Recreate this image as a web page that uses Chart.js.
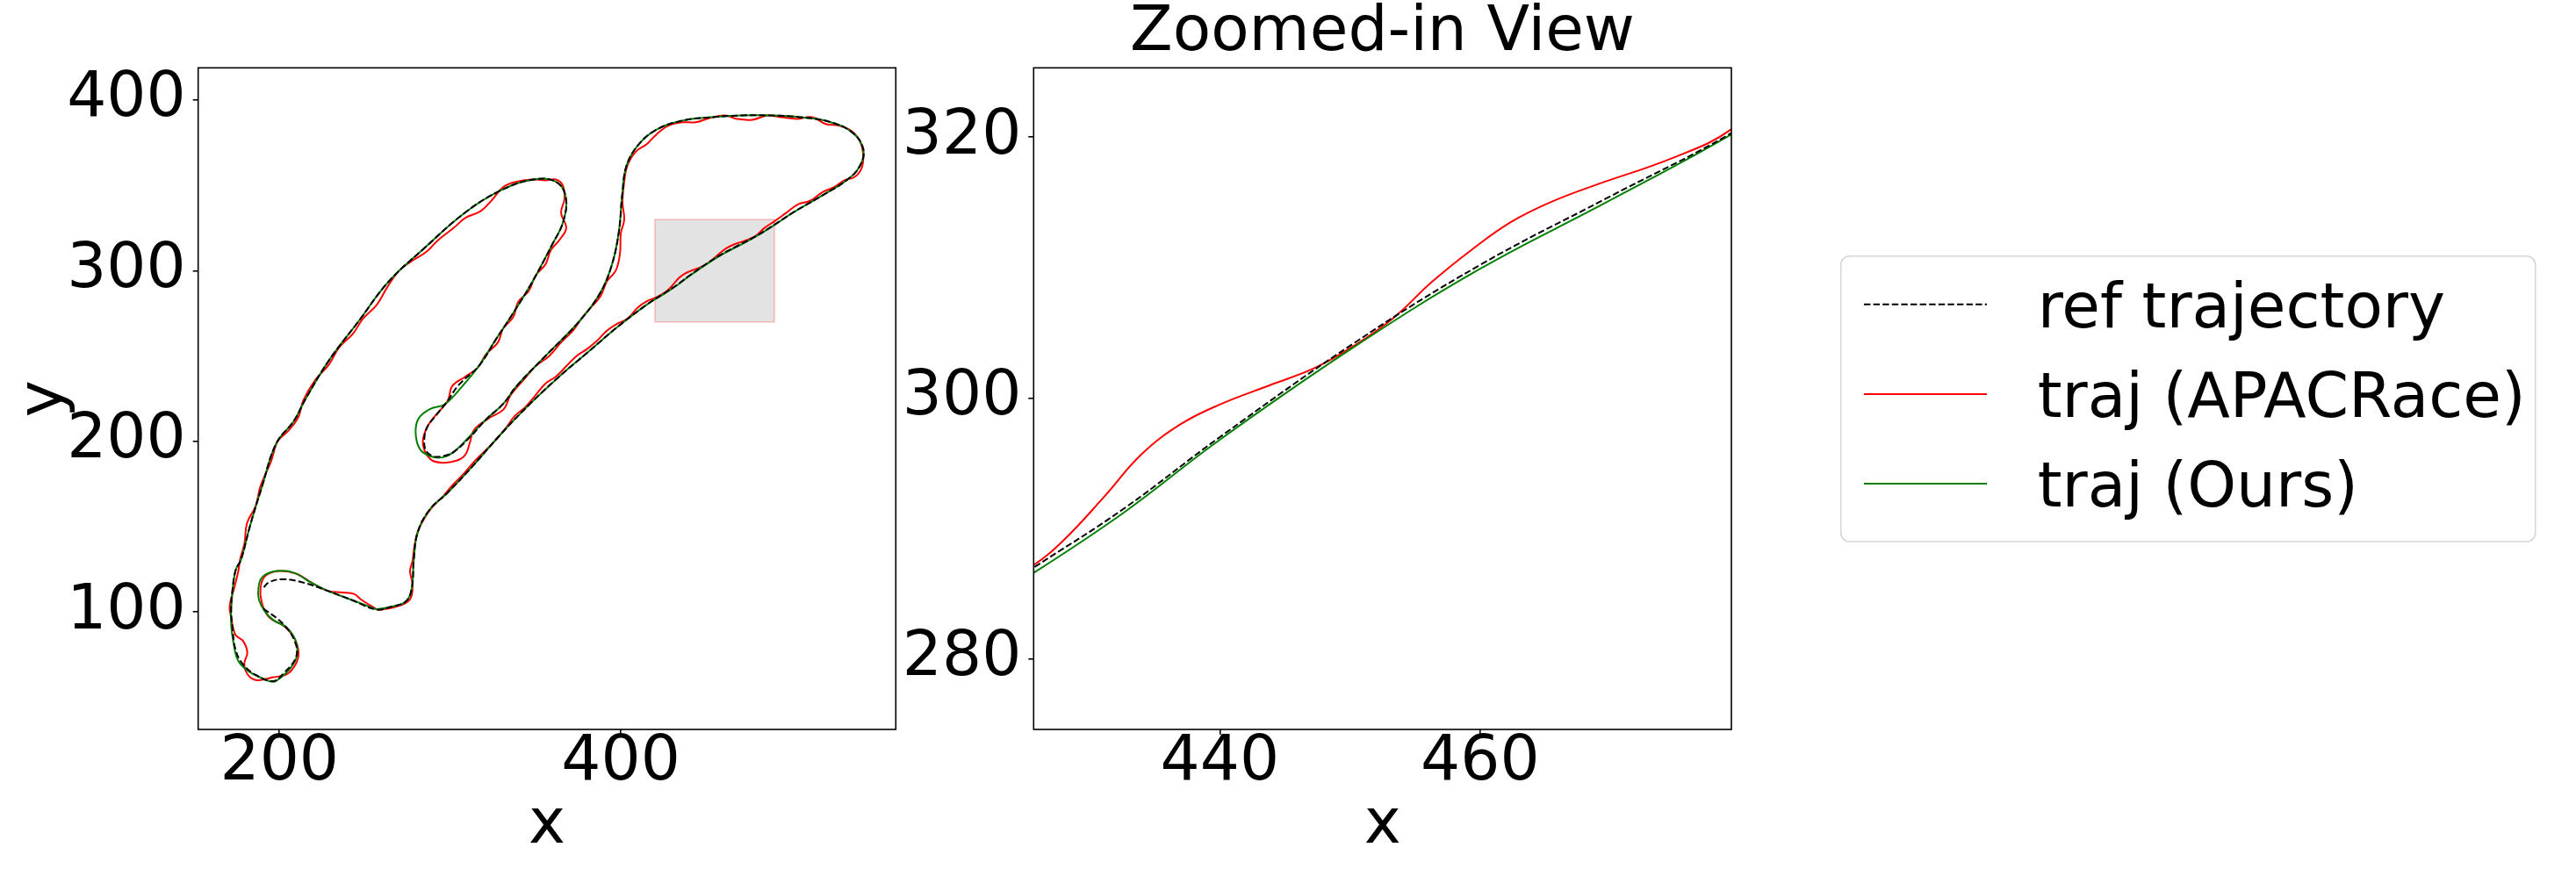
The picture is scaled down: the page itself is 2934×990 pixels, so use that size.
<!DOCTYPE html>
<html>
<head>
<meta charset="utf-8">
<script src="https://cdn.jsdelivr.net/npm/chart.js@4.4.1/dist/chart.umd.min.js"></script>
<style>
  html, body { margin: 0; padding: 0; background: #fff; }
  #wrap { position: relative; width: 2934px; height: 990px; overflow: hidden; background: #fff; }
  canvas { position: absolute; top: 0; }
  #legend { position: absolute; left: 0; top: 0; }
</style>
</head>
<body>
<div id="wrap">
  <canvas id="main" width="1030" height="990" style="left:0px"></canvas>
  <canvas id="zoom" width="1109" height="990" style="left:1020px"></canvas>
  <svg id="legend" width="2934" height="990" xmlns="http://www.w3.org/2000/svg"></svg>
</div>
<script>
// reference centre line (open path)
const refX = [190.6, 202.6, 209.5, 209.5, 202.6, 196.6, 187.1, 178.6, 174.3, 172.6, 171.7, 172.6, 174.3, 177.5,
  182.7, 189.6, 198.2, 208.5, 215.4, 229.2, 246.4, 263.6, 284.3, 308.4, 329.1, 348.0, 361.8, 367.7, 366.3,
  360.1, 348.0, 336.0, 327.4, 317.0, 305.0, 298.6, 291.8, 286.6, 284.9, 285.8, 290.0, 295.2, 302.1, 312.3,
  320.9, 331.2, 338.9, 356.7, 375.7, 387.7, 394.6, 398.8, 400.9, 403.3, 410.2, 420.5, 436.0, 453.3, 470.5,
  487.7, 504.9, 522.2, 535.9, 542.1, 540.0, 532.5, 518.7, 501.5, 490.0, 479.3, 469.7, 460.0, 450.3, 440.0,
  432.6, 425.7, 415.0, 398.2, 381.0, 363.8, 346.5, 329.3, 312.1, 298.3, 288.0, 281.1, 278.7, 277.6, 274.2,
  265.5, 256.9, 242.0, 228.3, 214.6, 202.6, 194.0, 190.2];
const refY = [102.1, 92.6, 81.5, 72.9, 64.3, 59.5, 62.6, 69.4, 78.0, 90.0, 102.0, 114.0, 124.3, 130.7,
  150.2, 172.9, 198.9, 212.0, 225.0, 247.7, 270.4, 293.2, 312.7, 333.8, 346.8, 353.3, 352.3, 343.5, 328.9,
  315.9, 293.2, 273.7, 260.7, 244.4, 233.0, 223.8, 215.3, 208.4, 201.5, 194.7, 191.3, 191.3, 193.8, 203.2,
  212.7, 222.1, 232.4, 250.9, 270.4, 286.6, 302.9, 322.4, 345.1, 361.4, 373.7, 382.5, 388.0, 390.0, 391.0,
  391.0, 390.0, 387.3, 380.8, 371.1, 361.3, 353.2, 344.5, 334.5, 327.0, 320.3, 315.3, 310.2, 304.2, 297.0,
  291.5, 287.0, 280.0, 267.2, 252.5, 237.9, 221.7, 203.8, 184.3, 169.7, 160.0, 147.0, 130.7, 114.4, 106.3,
  103.1, 101.5, 107.2, 112.4, 117.1, 119.2, 117.5, 113.7];

// APACRace trajectory
const apacX = [257.5, 248.0, 243.7, 236.9, 228.3, 219.8, 209.5, 199.2, 191.5, 188.9, 189.7, 194.0, 202.6, 208.6,
  211.2, 209.5, 204.3, 195.7, 187.1, 182.0, 179.4, 181.2, 178.6, 174.3, 171.7, 170.9, 173.5, 176.0, 177.0,
  179.5, 181.0, 186.0, 189.0, 195.0, 199.0, 205.0, 211.0, 214.0, 221.0, 229.0, 235.0, 243.0, 249.0, 257.0,
  263.0, 270.0, 278.0, 286.0, 293.0, 302.0, 309.0, 318.0, 325.0, 331.0, 338.0, 348.0, 356.0, 362.0, 366.0,
  367.0, 365.0, 368.0, 364.0, 359.0, 356.0, 350.0, 346.0, 340.0, 337.0, 331.0, 328.0, 321.0, 316.0, 309.0,
  301.2, 298.6, 290.0, 285.8, 284.1, 288.4, 295.2, 303.8, 308.9, 311.5, 314.0, 322.6, 331.2, 335.5, 343.0,
  350.0, 358.0, 365.0, 372.0, 377.0, 382.0, 388.0, 392.0, 397.0, 399.5, 400.0, 402.0, 401.0, 402.0, 404.0,
  409.0, 415.0, 421.0, 428.0, 436.0, 444.0, 452.0, 461.0, 468.0, 477.0, 486.0, 494.0, 503.0, 512.0, 520.0,
  528.0, 535.0, 540.0, 542.0, 541.0, 537.0, 531.0, 525.0, 518.0, 511.0, 504.0, 497.0, 490.0, 484.0, 479.3,
  474.8, 468.8, 465.4, 462.4, 459.4, 456.3, 453.3, 450.3, 447.3, 443.9, 440.0, 437.0, 434.0, 431.0, 428.0,
  425.7, 421.0, 416.0, 410.0, 404.0, 398.0, 392.0, 386.0, 380.0, 374.0, 368.0, 362.0, 356.0, 350.0, 344.0,
  338.0, 332.0, 326.0, 320.0, 314.0, 308.0, 302.0, 296.0, 290.0, 285.0, 281.0, 279.0, 278.0, 276.5, 278.0,
  276.3, 267.7, 257.5];
const apacY = [101.2, 107.2, 110.6, 111.5, 112.4, 116.6, 122.6, 124.0, 120.9, 114.0, 105.5, 96.9, 91.8, 84.9,
  76.3, 69.4, 63.5, 61.7, 60.0, 62.6, 69.4, 76.3, 83.2, 86.6, 96.9, 103.8, 114.0, 124.3, 131.0,
  140.0, 152.0, 162.0, 174.0, 188.0, 200.0, 206.0, 214.0, 224.0, 236.0, 245.0, 255.0, 263.0, 272.0, 280.0,
  290.0, 300.0, 306.0, 311.0, 318.0, 325.0, 331.0, 335.0, 342.0, 349.0, 352.0, 353.5, 353.0, 353.5, 350.0,
  342.0, 334.0, 325.0, 318.0, 312.0, 304.0, 297.0, 288.0, 282.0, 273.0, 266.0, 258.0, 251.0, 243.0, 238.0,
  232.4, 223.8, 213.5, 206.8, 198.2, 189.6, 187.5, 188.7, 192.1, 199.0, 206.7, 213.5, 218.6, 227.2, 236.0,
  244.0, 250.0, 258.0, 265.0, 272.0, 278.0, 285.0, 294.0, 300.0, 310.0, 322.0, 330.0, 340.0, 352.0, 362.0,
  370.0, 374.0, 380.0, 385.0, 387.0, 387.0, 389.5, 391.0, 389.0, 388.5, 391.0, 390.0, 389.0, 390.0, 386.0,
  385.0, 382.0, 376.0, 368.0, 360.0, 355.0, 353.0, 349.0, 346.0, 341.0, 339.0, 334.0, 329.0, 325.0, 320.6,
  318.4, 316.3, 315.0, 313.5, 311.4, 308.9, 306.1, 304.0, 302.3, 301.0, 299.5, 298.0, 295.7, 292.3, 289.1,
  287.2, 284.5, 282.5, 278.5, 272.0, 269.0, 265.0, 259.0, 254.0, 250.0, 244.0, 238.0, 234.0, 227.0, 220.0,
  215.0, 207.0, 200.0, 194.0, 188.0, 181.0, 175.0, 168.0, 162.0, 155.0, 147.0, 138.0, 130.0, 124.0, 115.7,
  107.2, 102.9, 101.2];

// our trajectory
const oursX = [256.9, 242.0, 228.3, 218.0, 211.2, 204.3, 195.7, 189.7, 187.7, 188.0, 191.5, 196.6, 204.3, 209.5,
  210.3, 206.9, 200.9, 196.6, 190.6, 182.0, 176.0, 173.5, 171.7, 172.1, 174.3, 177.5, 182.7, 189.6, 198.2,
  208.5, 215.4, 229.2, 246.4, 263.6, 284.3, 308.4, 329.1, 348.0, 361.8, 367.7, 366.3, 360.1, 348.0, 336.0,
  327.4, 317.0, 307.2, 296.9, 288.4, 281.6, 279.8, 282.3, 288.4, 295.2, 302.1, 312.3, 320.9, 331.2, 338.9,
  356.7, 375.7, 387.7, 394.6, 398.8, 400.9, 403.3, 410.2, 420.5, 436.0, 453.3, 470.5, 487.7, 504.9, 522.2,
  535.9, 542.1, 540.0, 532.5, 518.7, 501.5, 490.0, 479.3, 469.7, 460.0, 450.3, 440.0, 432.6, 425.7, 415.0,
  398.2, 381.0, 363.8, 346.5, 329.3, 312.1, 298.3, 288.0, 281.1, 278.7, 277.6, 274.2, 265.5, 256.9];
const oursY = [101.5, 107.2, 112.4, 117.5, 121.8, 124.0, 123.5, 120.1, 114.0, 107.2, 100.3, 95.2, 90.9, 83.2,
  74.6, 67.7, 61.7, 59.1, 60.9, 65.2, 71.2, 79.7, 93.5, 107.2, 124.3, 130.7, 150.2, 172.9, 198.9,
  212.0, 225.0, 247.7, 270.4, 293.2, 312.7, 333.8, 346.8, 353.3, 352.3, 343.5, 328.9, 315.9, 293.2, 273.7,
  260.7, 244.4, 232.4, 221.8, 219.0, 213.5, 205.0, 195.5, 191.3, 190.6, 193.8, 203.8, 212.7, 222.1, 232.4,
  250.9, 270.4, 286.6, 302.9, 322.4, 345.1, 361.4, 373.7, 382.5, 388.0, 390.0, 391.0, 391.0, 390.0, 387.3,
  380.8, 371.1, 361.3, 353.2, 344.5, 334.5, 326.8, 320.2, 315.0, 309.9, 303.9, 296.8, 291.2, 286.6, 280.0,
  267.2, 252.5, 237.9, 221.7, 203.8, 184.3, 169.7, 160.0, 147.0, 130.7, 114.4, 106.3, 103.1, 101.5];

const seriesLabels = ['ref trajectory', 'traj (APACRace)', 'traj (Ours)'];

// axes
const mainXRange = [152.4, 561.1];
const mainYRange = [31.2, 418.9];
const mainXTicks = [200, 400];
const mainYTicks = [100, 200, 300, 400];
const zoomXRange = [425.7, 479.3];
const zoomYRange = [274.6, 325.3];
const zoomXTicks = [440, 460];
const zoomYTicks = [280, 300, 320];
const zoomBoxX = [420, 490];
const zoomBoxY = [270, 330];

const FONT = 'DejaVu Sans';
Chart.defaults.font.family = FONT;
Chart.defaults.font.size = 71;
Chart.defaults.color = '#000';

const pts = (xs, ys) => xs.map((x, i) => ({ x: x, y: ys[i] }));

function makeDatasets() {
  return [
    { label: seriesLabels[0], data: pts(refX, refY), borderColor: '#000000', borderWidth: 2,
      borderDash: [7.4, 3.2], showLine: true, pointRadius: 0, tension: 0.4, fill: false },
    { label: seriesLabels[2], data: pts(oursX, oursY), borderColor: '#008000', borderWidth: 2,
      showLine: true, pointRadius: 0, tension: 0.4, fill: false },
    { label: seriesLabels[1], data: pts(apacX, apacY), borderColor: '#ff0000', borderWidth: 2,
      showLine: true, pointRadius: 0, tension: 0.4, fill: false }
  ];
}

function axis(dir, range, ticks, title, fixed, tickPad) {
  return {
    type: 'linear',
    min: range[0],
    max: range[1],
    afterBuildTicks: s => { s.ticks = ticks.map(v => ({ value: v })); },
    afterFit: s => { if (dir === 'x') s.height = fixed; else s.width = fixed; },
    grid: { drawOnChartArea: false, drawTicks: true, tickLength: 6, color: '#000', lineWidth: 1.6 },
    border: { display: false },
    ticks: { color: '#000', font: { size: 71, lineHeight: 1 }, padding: tickPad, maxRotation: 0, autoSkip: false },
    title: title ? {
      display: true, text: title, color: '#000', font: { size: 71, lineHeight: 1 },
      padding: dir === 'x' ? { top: 0, bottom: 13 } : { top: 16, bottom: 0 }
    } : { display: false }
  };
}

// empty right-hand axis so the title centres over the plot
const spacerAxis = {
  type: 'linear', position: 'right', min: 0, max: 1,
  afterFit: s => { s.width = 157; },
  ticks: { display: false }, grid: { display: false }, border: { display: false }
};

const framePlugin = {
  id: 'frame',
  afterDatasetsDraw(chart) {
    const { ctx, chartArea: a } = chart;
    ctx.save();
    ctx.strokeStyle = '#000';
    ctx.lineWidth = 1.6;
    ctx.strokeRect(a.left, a.top, a.right - a.left, a.bottom - a.top);
    ctx.restore();
  }
};

const zoomBoxPlugin = {
  id: 'zoomBox',
  beforeDatasetsDraw(chart) {
    const { ctx, scales: { x, y } } = chart;
    const l = x.getPixelForValue(zoomBoxX[0]), r = x.getPixelForValue(zoomBoxX[1]);
    const t = y.getPixelForValue(zoomBoxY[1]), b = y.getPixelForValue(zoomBoxY[0]);
    ctx.save();
    ctx.fillStyle = 'rgba(128,128,128,0.22)';
    ctx.fillRect(l, t, r - l, b - t);
    ctx.strokeStyle = 'rgba(255,0,0,0.22)';
    ctx.lineWidth = 1.6;
    ctx.strokeRect(l, t, r - l, b - t);
    ctx.restore();
  }
};

const common = {
  responsive: false,
  animation: false,
  devicePixelRatio: 1,
  events: [],
  plugins: { legend: { display: false }, tooltip: { enabled: false } }
};

const mainChart = new Chart(document.getElementById('main'), {
  type: 'scatter',
  data: { datasets: makeDatasets() },
  options: Object.assign({}, common, {
    layout: { padding: { left: 0, right: 9.7, top: 77.3, bottom: 0 } },
    scales: {
      x: axis('x', mainXRange, mainXTicks, 'x', 159, -3),
      y: axis('y', mainYRange, mainYTicks, 'y', 225.7, 8)
    }
  }),
  plugins: [zoomBoxPlugin, framePlugin]
});

const zoomChart = new Chart(document.getElementById('zoom'), {
  type: 'scatter',
  data: { datasets: makeDatasets() },
  options: Object.assign({}, common, {
    layout: { padding: 0 },
    plugins: {
      legend: { display: false },
      tooltip: { enabled: false },
      title: { display: true, text: 'Zoomed-in View', color: '#000',
        font: { size: 71, lineHeight: 1, weight: 'normal' }, padding: { top: 3.2, bottom: 3.1 } }
    },
    scales: {
      x: axis('x', zoomXRange, zoomXTicks, 'x', 159, -3),
      y: axis('y', zoomYRange, zoomYTicks, null, 157.3, 8),
      y2: spacerAxis
    }
  }),
  plugins: [framePlugin]
});

// legend built from the chart's datasets
(function buildLegend() {
  const svg = document.getElementById('legend');
  const NS = 'http://www.w3.org/2000/svg';
  const el = (tag, attrs, text) => {
    const e = document.createElementNS(NS, tag);
    for (const k in attrs) e.setAttribute(k, attrs[k]);
    if (text) e.textContent = text;
    svg.appendChild(e);
    return e;
  };
  el('rect', { x: 2096.7, y: 291.7, width: 791, height: 325.3, rx: 10, ry: 10,
    fill: '#fff', stroke: '#d6d6d6', 'stroke-width': 1.6 });
  const byLabel = {};
  mainChart.data.datasets.forEach(d => { byLabel[d.label] = d; });
  const rowY = [346.7, 449, 551];
  seriesLabels.forEach((lab, i) => {
    const d = byLabel[lab];
    const attrs = { x1: 2123, y1: rowY[i], x2: 2263, y2: rowY[i], stroke: d.borderColor, 'stroke-width': 2 };
    if (d.borderDash) attrs['stroke-dasharray'] = d.borderDash.join(' ');
    el('line', attrs);
    el('text', { x: 2320.7, y: rowY[i] + 26.3, 'font-family': FONT, 'font-size': 71, fill: '#000' }, lab);
  });
})();
</script>
</body>
</html>
